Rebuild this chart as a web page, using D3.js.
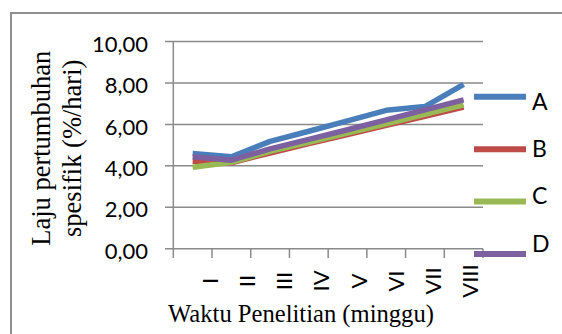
<!DOCTYPE html>
<html>
<head>
<meta charset="utf-8">
<script src="https://cdn.jsdelivr.net/npm/d3@7"></script>
<style>
  html, body { margin: 0; padding: 0; background: #fff; }
  svg { display: block; }
</style>
</head>
<body>
<svg id="chart" width="562" height="334"></svg>
<script>
// Week categories (Roman numerals) and growth-rate series (%/hari)
const weeks = ["I", "II", "III", "IV", "V", "VI", "VII", "VIII"];
const seriesNames = ["A", "B", "C", "D"];
const seriesA = [4.60, 4.44, 5.18, 5.67, 6.17, 6.68, 6.86, 7.93];
const seriesB = [4.22, 4.15, 4.62, 5.07, 5.51, 5.95, 6.39, 6.83];
const seriesC = [3.93, 4.17, 4.70, 5.14, 5.58, 6.03, 6.48, 6.94];
const seriesD = [4.44, 4.27, 4.82, 5.28, 5.74, 6.22, 6.70, 7.18];
const yTicks = [0, 2, 4, 6, 8, 10];
const yTickLabels = ["0,00", "2,00", "4,00", "6,00", "8,00", "10,00"];
const colors = ["#4a7ebb", "#be4b48", "#98b954", "#7d60a0"];

const series = [seriesA, seriesB, seriesC, seriesD].map((values, i) => ({
  name: seriesNames[i], color: colors[i], values
}));

const svg = d3.select("#chart");
const gridColor = "#8a8a8a";

// outer frame
svg.append("path")
  .attr("d", "M11,334 V13 H562")
  .attr("fill", "none")
  .attr("stroke", "#8f8f8f")
  .attr("stroke-width", 2);

// scales
const x = d3.scaleBand().domain(weeks).range([173.3, 483]).paddingInner(0).paddingOuter(0);
const y = d3.scaleLinear().domain([0, 10]).range([248.7, 41.5]);
const cx = d => x(d) + x.bandwidth() / 2;

// horizontal gridlines (extend left as tick marks)
svg.append("g").selectAll("line").data(yTicks).join("line")
  .attr("x1", 165).attr("x2", 483)
  .attr("y1", d => y(d)).attr("y2", d => y(d))
  .attr("stroke", gridColor).attr("stroke-width", 1.5);

// y axis line
svg.append("line")
  .attr("x1", 173.3).attr("x2", 173.3)
  .attr("y1", y(10)).attr("y2", 258)
  .attr("stroke", gridColor).attr("stroke-width", 1.5);

// x axis tick marks at category boundaries
const boundaries = weeks.map(w => x(w) + x.bandwidth());
svg.append("g").selectAll("line").data(boundaries).join("line")
  .attr("x1", d => d).attr("x2", d => d)
  .attr("y1", y(0)).attr("y2", 258)
  .attr("stroke", gridColor).attr("stroke-width", 1.5);

// y tick labels
svg.append("g").selectAll("text").data(yTicks).join("text")
  .attr("x", 148)
  .attr("y", d => y(d) + 10.2)
  .attr("text-anchor", "end")
  .attr("font-family", "Lato, 'Open Sans', sans-serif")
  .attr("font-size", 22)
  .attr("fill", "#000")
  .text((d, i) => yTickLabels[i]);

// x tick labels, rotated
const labelX = d3.scalePoint().domain(weeks).range([218, 478]);
svg.append("g").selectAll("text").data(weeks).join("text")
  .attr("transform", d => `translate(${labelX(d)},281) rotate(-90)`)
  .attr("text-anchor", "middle")
  .attr("font-family", "Lato, 'Open Sans', sans-serif")
  .attr("font-size", 22)
  .attr("fill", "#000")
  .text(d => d);

// series lines
const line = d3.line()
  .x((v, i) => cx(weeks[i]))
  .y(v => y(v));

svg.append("g").selectAll("path").data(series).join("path")
  .attr("d", d => line(d.values))
  .attr("fill", "none")
  .attr("stroke", d => d.color)
  .attr("stroke-width", 5.5)
  .attr("stroke-linejoin", "round");

// legend
const legLineY = d3.scalePoint().domain(seriesNames).range([96.7, 254]);
const legTextY = d3.scalePoint().domain(seriesNames).range([101.5, 243.5]);
const leg = svg.append("g");
leg.selectAll("line").data(series).join("line")
  .attr("x1", 474).attr("x2", 526)
  .attr("y1", d => legLineY(d.name)).attr("y2", d => legLineY(d.name))
  .attr("stroke", d => d.color)
  .attr("stroke-width", 6);
leg.selectAll("text").data(series).join("text")
  .attr("x", 532)
  .attr("y", d => legTextY(d.name) + 8.2)
  .attr("font-family", "Lato, 'Open Sans', sans-serif")
  .attr("font-size", 23)
  .attr("fill", "#000")
  .text(d => d.name);

// axis titles
svg.append("text")
  .attr("x", 301).attr("y", 322)
  .attr("text-anchor", "middle")
  .attr("font-family", "'Liberation Serif', 'Times New Roman', serif")
  .attr("font-size", 24.6)
  .attr("fill", "#000")
  .text("Waktu Penelitian (minggu)");

const yTitle = svg.append("text")
  .attr("transform", "translate(50,148.3) rotate(-90)")
  .attr("text-anchor", "middle")
  .attr("font-family", "'Liberation Serif', 'Times New Roman', serif")
  .attr("font-size", 26.5)
  .attr("fill", "#000");
yTitle.append("tspan").attr("x", 0).attr("y", 0).text("Laju pertumbuhan");
yTitle.append("tspan").attr("x", 0).attr("y", 31).text("spesifik (%/hari)");
</script>
</body>
</html>
